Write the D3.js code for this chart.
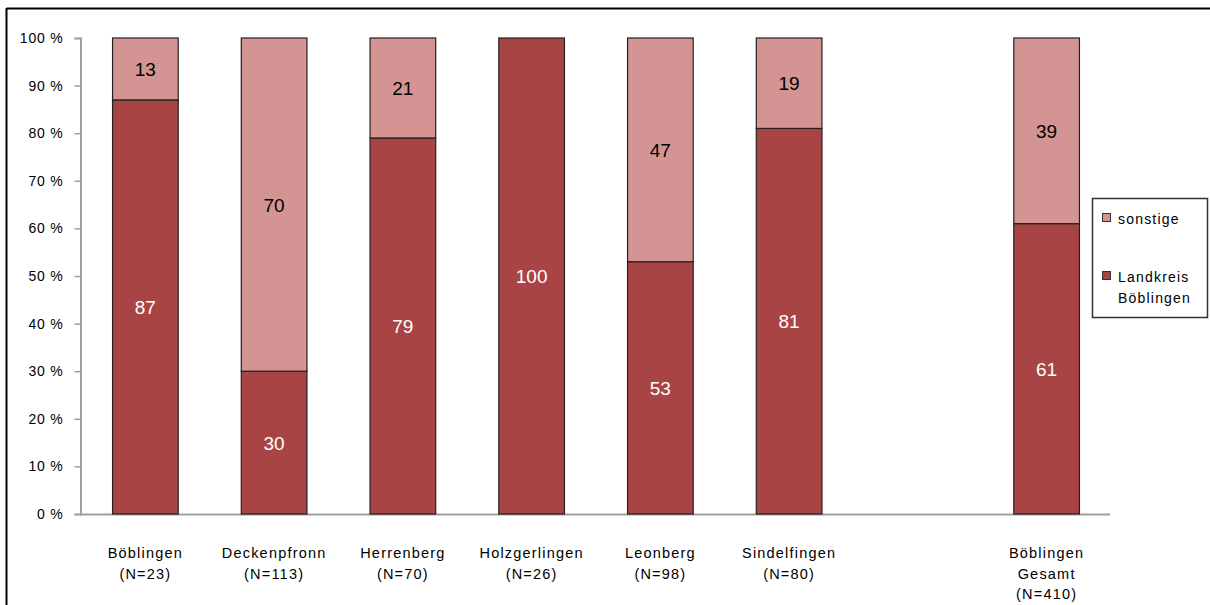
<!DOCTYPE html>
<html>
<head>
<meta charset="utf-8">
<script src="https://cdn.jsdelivr.net/npm/d3@7"></script>
<style>
  html, body { margin: 0; padding: 0; background: #fff; }
  svg { display: block; font-family: Arial, "Liberation Sans", sans-serif; }
</style>
</head>
<body>
<script>
const categories = [
  ['Böblingen', '(N=23)'],
  ['Deckenpfronn', '(N=113)'],
  ['Herrenberg', '(N=70)'],
  ['Holzgerlingen', '(N=26)'],
  ['Leonberg', '(N=98)'],
  ['Sindelfingen', '(N=80)'],
  null,
  ['Böblingen', 'Gesamt', '(N=410)']
];
const landkreis = [87, 30, 79, 100, 53, 81, null, 61];
const sonstige = [13, 70, 21, 0, 47, 19, null, 39];
const yTicks = [0, 10, 20, 30, 40, 50, 60, 70, 80, 90, 100];

const colors = { landkreis: '#a84444', sonstige: '#d49494', axis: '#a0a0a0' };

const width = 1210, height = 605;
const margin = { top: 38, right: 100, bottom: 91, left: 80 };

const svg = d3.select('body').append('svg')
  .attr('width', width)
  .attr('height', height);

// frame lines top and left
svg.append('line').attr('x1', 6.5).attr('x2', width).attr('y1', 8.5).attr('y2', 8.5)
  .attr('stroke', '#000').attr('stroke-width', 2);
svg.append('line').attr('x1', 6.5).attr('x2', 6.5).attr('y1', 8).attr('y2', height)
  .attr('stroke', '#000').attr('stroke-width', 2);

const x = d3.scaleBand()
  .domain(d3.range(categories.length))
  .range([margin.left + 1, margin.left + 1031])
  .paddingInner(0.49)
  .paddingOuter(0.245);

const y = d3.scaleLinear()
  .domain([0, 100])
  .range([514, margin.top]);

// y axis
const yAxis = svg.append('g')
  .attr('transform', `translate(${margin.left + 0.5},0)`)
  .call(d3.axisLeft(y).tickValues(yTicks).tickSize(6).tickFormat(d => d + ' %'));
yAxis.select('.domain').attr('stroke', colors.axis).attr('stroke-width', 2);
yAxis.selectAll('.tick line').attr('stroke', colors.axis).attr('stroke-width', 1.5);
yAxis.selectAll('.tick text').attr('font-size', 14).attr('letter-spacing', 0.8)
  .attr('fill', '#000').attr('x', -17);

// x axis baseline
svg.append('line')
  .attr('x1', margin.left).attr('x2', margin.left + 1030)
  .attr('y1', y(0) + 0.5).attr('y2', y(0) + 0.5)
  .attr('stroke', colors.axis).attr('stroke-width', 2);

const rows = categories.map((c, i) => ({ i, c, lk: landkreis[i], so: sonstige[i] }))
  .filter(d => d.c !== null);

const bars = svg.append('g');
bars.selectAll('rect.lk').data(rows).enter().append('rect')
  .attr('x', d => x(d.i)).attr('width', x.bandwidth())
  .attr('y', d => y(d.lk)).attr('height', d => y(0) - y(d.lk))
  .attr('fill', colors.landkreis).attr('stroke', '#222').attr('stroke-width', 1.2);
bars.selectAll('rect.so').data(rows.filter(d => d.so > 0)).enter().append('rect')
  .attr('x', d => x(d.i)).attr('width', x.bandwidth())
  .attr('y', d => y(d.lk + d.so)).attr('height', d => y(d.lk) - y(d.lk + d.so))
  .attr('fill', colors.sonstige).attr('stroke', '#222').attr('stroke-width', 1.2);

bars.selectAll('text.lk').data(rows).enter().append('text')
  .attr('x', d => x(d.i) + x.bandwidth() / 2)
  .attr('y', d => y(d.lk / 2) + 7)
  .attr('text-anchor', 'middle').attr('font-size', 19).attr('fill', '#fff')
  .text(d => d.lk);
bars.selectAll('text.so').data(rows.filter(d => d.so > 0)).enter().append('text')
  .attr('x', d => x(d.i) + x.bandwidth() / 2)
  .attr('y', d => y(d.lk + d.so / 2) + 7)
  .attr('text-anchor', 'middle').attr('font-size', 19).attr('fill', '#000')
  .text(d => d.so);

// category labels
const labels = svg.append('g');
rows.forEach(d => {
  const t = labels.append('text')
    .attr('x', x(d.i) + x.bandwidth() / 2)
    .attr('y', 558)
    .attr('text-anchor', 'middle').attr('font-size', 14.5).attr('letter-spacing', 1.2)
    .attr('fill', '#000');
  d.c.forEach((line, k) => {
    t.append('tspan').attr('x', x(d.i) + x.bandwidth() / 2).attr('dy', k === 0 ? 0 : 20.5).text(line);
  });
});

// legend
const lg = svg.append('g').attr('transform', 'translate(1092,198)');
lg.append('rect').attr('x', 0.5).attr('y', 0.5).attr('width', 115).attr('height', 119)
  .attr('fill', '#fff').attr('stroke', '#333').attr('stroke-width', 1.5);
const legendItems = [
  { label: ['sonstige'], color: colors.sonstige, y: 26 },
  { label: ['Landkreis', 'Böblingen'], color: colors.landkreis, y: 84 }
];
legendItems.forEach(it => {
  lg.append('rect').attr('x', 10.5).attr('y', it.y - 10.5).attr('width', 8).attr('height', 8)
    .attr('fill', it.color).attr('stroke', '#333').attr('stroke-width', 1);
  const t = lg.append('text').attr('x', 26).attr('y', it.y).attr('font-size', 14)
    .attr('letter-spacing', 1.2).attr('fill', '#000');
  it.label.forEach((line, k) => {
    t.append('tspan').attr('x', 26).attr('dy', k === 0 ? 0 : 21).text(line);
  });
});
</script>
</body>
</html>
